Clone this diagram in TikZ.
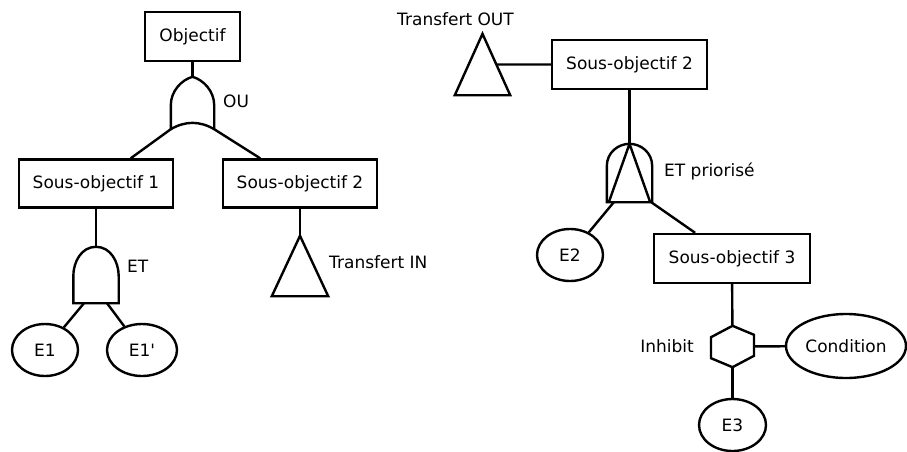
\documentclass[tikz,border=0pt]{standalone}
\usepackage{fontspec}
\setmainfont{DejaVu Sans}
\usetikzlibrary{shapes,calc}

\tikzset{
  every node/.style={font=\fontsize{17}{20}\selectfont},
  box/.style={draw, line width=2.4pt, minimum width=154pt, minimum height=48pt, inner sep=0pt},
  event/.style={draw, ellipse, line width=2.4pt, minimum width=66pt, minimum height=52pt, inner sep=0pt},
  gatebox/.style={inner sep=0pt, minimum width=43pt, minimum height=56pt},
  lbl/.style={inner sep=0pt}
}

\begin{document}
\begin{tikzpicture}[x=1pt,y=1pt,line width=2.4pt,line join=miter]
  \useasboundingbox (0,0) rectangle (907,-451);
  % left tree
  \node[box, minimum width=95pt, minimum height=49pt] (obj) at (192.5,-36.5) {Objectif};
  \node[gatebox, minimum width=41pt, minimum height=50pt] (ou) at (192.5,-103) {};
  \node[box] (so1) at (96,-183.5) {Sous-objectif 1};
  \node[box] (so2) at (300,-183.5) {Sous-objectif 2};
  \node[gatebox, minimum height=54pt] (et) at (96,-275) {};
  \node[event] (e1) at (45,-350) {E1};
  \node[event, minimum width=70pt] (e1p) at (142,-350) {E1\textquotesingle};
  \node[gatebox, minimum width=54pt, minimum height=58pt] (tin) at (300,-266) {};
  % right tree
  \node[gatebox, minimum width=53pt, minimum height=59pt] (tout) at (482.5,-64.5) {};
  \node[box, minimum width=155pt, minimum height=49pt] (so2b) at (629.5,-64.5) {Sous-objectif 2};
  \node[gatebox] (etp) at (629.5,-173) {};
  \node[event] (e2) at (570,-255) {E2};
  \node[box, minimum width=156pt, minimum height=49pt] (so3) at (732,-258.5) {Sous-objectif 3};
  \node[gatebox, minimum height=39pt] (inh) at (732.5,-346.5) {};
  \node[event, minimum width=120pt, minimum height=64pt] (cond) at (846,-346) {Condition};
  \node[event, minimum width=67pt] (e3) at (732.5,-425) {E3};

  % gate outlines
  \draw (ou.south west) -- ++(0,24) .. controls +(0,14) and +(-11,-3) .. (ou.north)
    .. controls +(11,-3) and +(0,14) .. ($(ou.south east)+(0,24)$) -- (ou.south east)
    (ou.south west) to[bend left=30] (ou.south east);
  \draw (et.south west) -- ++(0,27) to[out=90,in=180] (et.north)
    to[out=0,in=90] ($(et.south east)+(0,27)$) -- (et.south east) -- cycle;
  \draw (etp.south west) -- ++(0,36) .. controls +(0,14) and +(-11,0) .. (etp.north)
    .. controls +(11,0) and +(0,14) .. ($(etp.south east)+(0,36)$) -- (etp.south east) -- cycle;
  \draw (etp.north) -- ($(etp.south west)+(2,0)$) (etp.north) -- ($(etp.south east)+(-2,0)$);
  \draw (tin.north) -- (tin.south west) -- (tin.south east) -- cycle;
  \draw (tout.north) -- (tout.south west) -- (tout.south east) -- cycle;
  \draw (inh.north) -- ++(21.5,-9) -- ++(0,-21) -- (inh.south) -- ++(-21.5,9) -- ++(0,21) -- cycle;

  % connectors
  \draw (obj) -- (ou.north);
  \draw (ou.south west) -- (so1);
  \draw (ou.south east) -- (so2);
  \draw (so1) -- (et.north);
  \draw ($(et.south)+(-12,0)$) -- (e1);
  \draw ($(et.south)+(11,0)$) -- (e1p);
  \draw (so2) -- (tin.north);
  \draw ($(tout.north)!0.5!(tout.south east)$) -- (so2b);
  \draw (so2b) -- (etp.north);
  \draw ($(etp.south west)+(7,0)$) -- (e2);
  \draw ($(etp.south east)+(-1,0)$) -- (so3);
  \draw (so3) -- (inh);
  \draw (inh) -- (cond);
  \draw (inh) -- (e3);

  % labels
  \node[lbl, anchor=west] (lou) at (222,-101) {OU};
  \node[lbl, anchor=west] (let) at (126,-266) {ET};
  \node[lbl, anchor=west] (ltin) at (328,-262) {Transfert IN};
  \node[lbl] (ltout) at (455.5,-19) {Transfert OUT};
  \node[lbl, anchor=west] (letp) at (663,-171) {ET priorisé};
  \node[lbl, anchor=east] (linh) at (695,-346) {Inhibit};
\end{tikzpicture}
\end{document}
